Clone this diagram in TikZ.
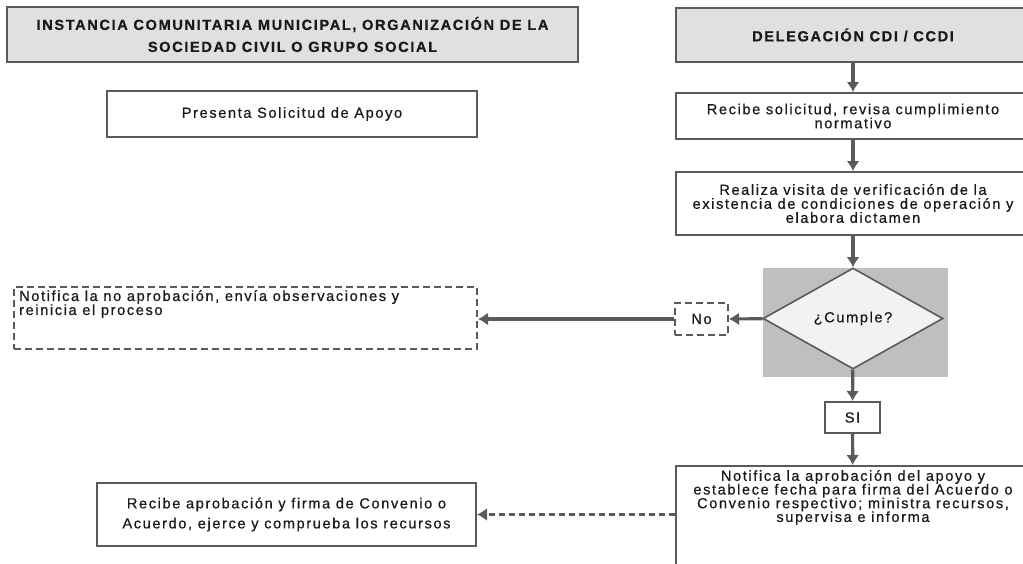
\documentclass[tikz,border=0pt]{standalone}
\usepackage{fontspec}
\setmainfont{Liberation Sans}[LetterSpace=11,FakeBold=0.6]
\usetikzlibrary{shapes.geometric,arrows.meta}
\definecolor{borde}{HTML}{5A5A5A}
\definecolor{encfondo}{HTML}{E0E0E0}
\definecolor{gris}{HTML}{BFBFBF}
\definecolor{rombo}{HTML}{F2F2F2}
\definecolor{letra}{HTML}{1A1A1A}
\tikzset{caja/.style={draw=borde, line width=2pt, fill=white, align=center, inner sep=2pt, text=letra},
    encabezado/.style={caja, fill=encfondo},
    punteado/.style={dash pattern=on 7pt off 4pt},
    flecha/.style={draw=borde, line width=3.2pt, -{Latex[length=10pt,width=13pt]}},
    decision/.style={diamond, draw=borde, line width=1.6pt, fill=rombo, aspect=1.8, inner sep=0pt, text=letra}}
\newcommand{\cuerpo}[1]{\fontsize{14.6}{#1}\selectfont}

\begin{document}
\begin{tikzpicture}[x=1pt,y=-1pt,font=\cuerpo{14}]
    \clip (0,0) rectangle (1023,563);
    % columna izquierda
    \node[encabezado, minimum width=571pt, minimum height=55pt, font=\cuerpo{22}\bfseries] (instancia) at (292.5,34.5)
        {INSTANCIA COMUNITARIA MUNICIPAL, ORGANIZACIÓN DE LA\\SOCIEDAD CIVIL O GRUPO SOCIAL};
    \node[caja, minimum width=370pt, minimum height=46pt] (solicitud) at (292,114) {Presenta Solicitud de Apoyo};
    \node[caja, punteado, minimum width=463pt, minimum height=62pt] (noaprob) at (245.5,318) {};
    \node[anchor=north west, align=left, inner sep=0pt, text=letra] (noaprobtxt) at ([shift={(6,4)}]noaprob.north west)
        {Notifica la no aprobación, envía observaciones y\\reinicia el proceso};
    \node[caja, minimum width=379pt, minimum height=63pt, font=\cuerpo{20}] (recibe) at (286.5,514.5)
        {Recibe aprobación y firma de Convenio o\\Acuerdo, ejerce y comprueba los recursos};
    % columna derecha
    \node[encabezado, minimum width=354pt, minimum height=54pt, font=\cuerpo{14}\bfseries] (delegacion) at (853,35) {DELEGACIÓN CDI / CCDI};
    \node[caja, minimum width=354pt, minimum height=46pt] (revisa) at (853,116) {Recibe solicitud, revisa cumplimiento\\normativo};
    \node[caja, minimum width=354pt, minimum height=63pt] (visita) at (853,203.5)
        {Realiza visita de verificación de la\\existencia de condiciones de operación y\\elabora dictamen};
    \fill[gris] (763,268) rectangle (948,377);
    \node[decision, minimum width=180pt, minimum height=101pt] (cumple) at (853,318.5) {¿Cumple?};
    \node[caja, punteado, minimum width=53pt, minimum height=32pt] (no) at (701.5,319) {No};
    \node[caja, minimum width=55pt, minimum height=31pt] (si) at (852.5,417.5) {SI};
    \node[caja, anchor=north, minimum width=354pt, minimum height=120pt] (ministra) at (853,465) {};
    \node[align=center, inner sep=0pt, text=letra, font=\cuerpo{13.7}] (ministratxt) at (853,497.5)
        {Notifica la aprobación del apoyo y\\establece fecha para firma del Acuerdo o\\Convenio respectivo; ministra recursos,\\supervisa e informa};
    % flechas
    \draw[flecha] (delegacion) -- (revisa);
    \draw[flecha] (revisa) -- (visita);
    \draw[flecha] (visita) -- (cumple);
    \draw[flecha] (cumple) -- (no);
    \draw[flecha] (no) -- (no -| noaprob.east);
    \draw[flecha] (cumple) -- (si);
    \draw[flecha] (si) -- (ministra);
    \draw[flecha, dash pattern=on 6pt off 4pt] (recibe -| ministra.west) -- (recibe);
\end{tikzpicture}
\end{document}
